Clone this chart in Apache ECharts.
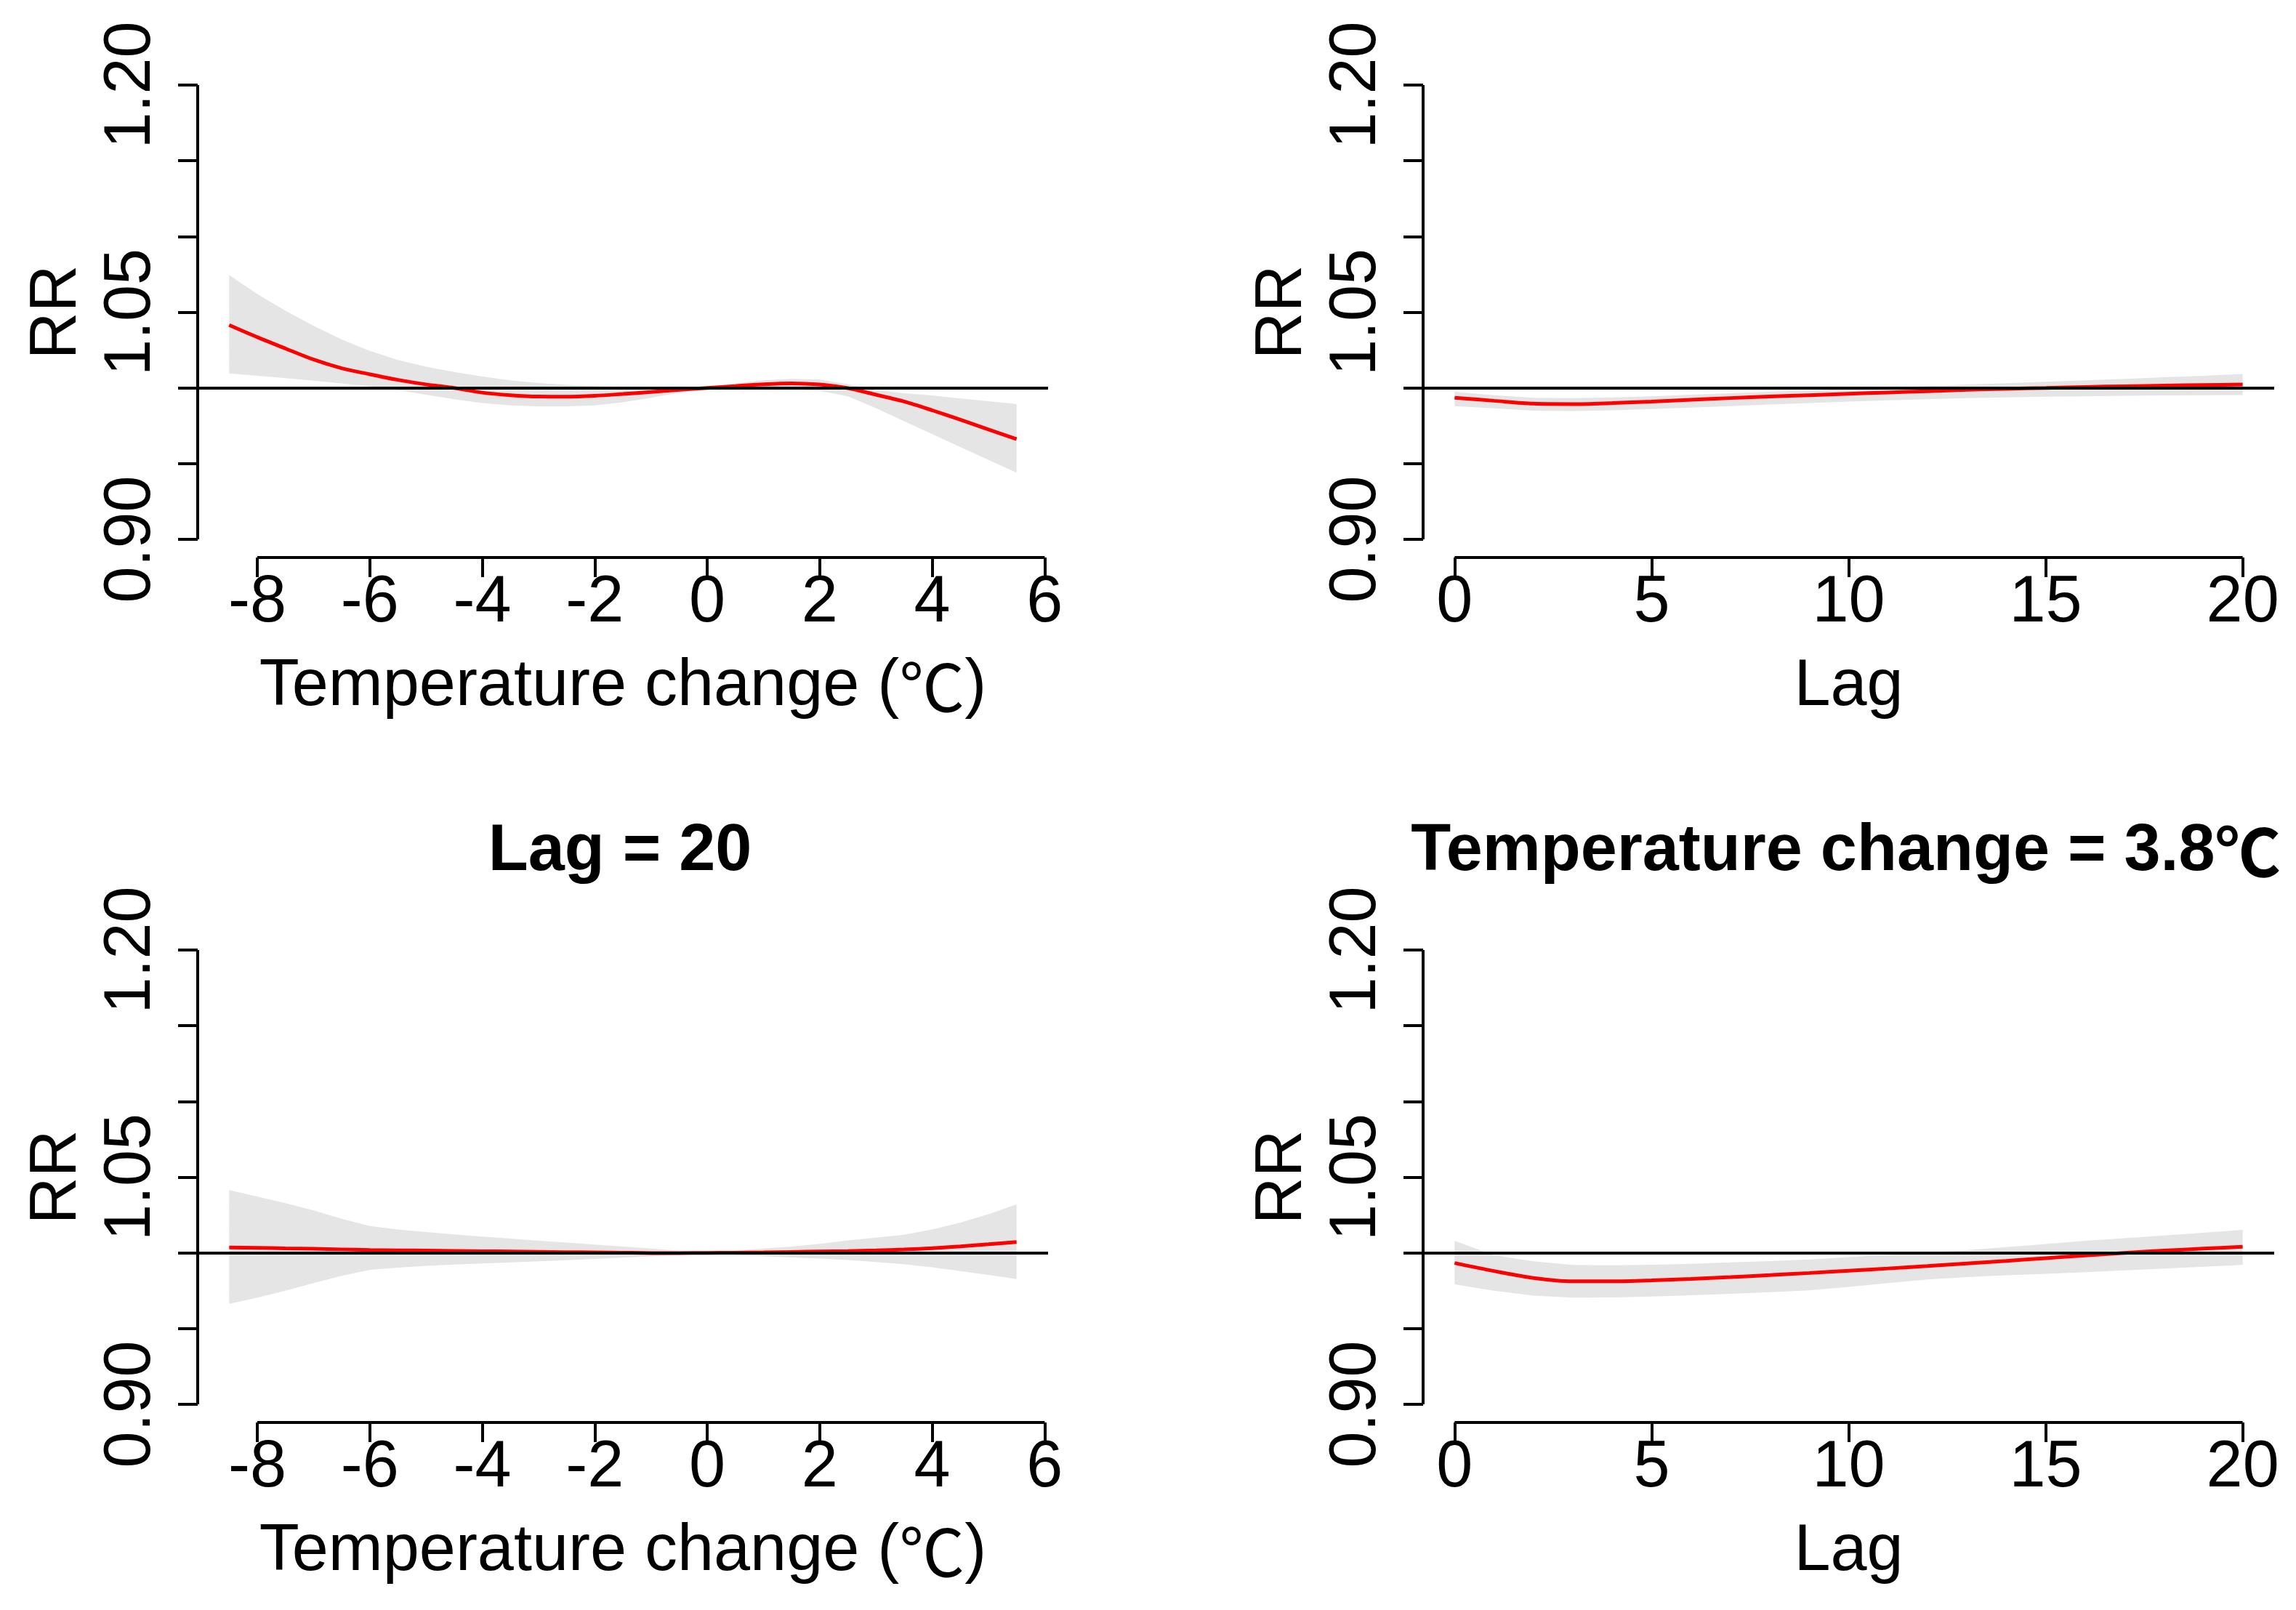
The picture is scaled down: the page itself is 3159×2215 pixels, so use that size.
<!DOCTYPE html>
<html>
<head>
<meta charset="utf-8">
<script src="https://cdn.jsdelivr.net/npm/echarts@6/dist/echarts.min.js"></script>
<style>
html,body{margin:0;padding:0;background:#fff;}
#chart{width:3159px;height:2215px;}
</style>
</head>
<body>
<div id="chart"></div>
<script>
// ---------- data ----------
const tempX = [-8.5,-8,-7.5,-7,-6.5,-6,-5.5,-5,-4.5,-4,-3.5,-3,-2.5,-2,-1.5,-1,-0.5,0,0.5,1,1.5,2,2.5,3,3.5,4,4.5,5,5.5];
const lagX = [0,1,2,3,4,5,6,7,8,9,10,11,12,13,14,15,16,17,18,19,20];

// Panel 1: overall temperature-response
const p1Fit  = [1.0415,1.0335,1.0260,1.0187,1.0130,1.0090,1.0053,1.0023,1.0000,0.9969,0.9952,0.9943,0.9942,0.9948,0.9960,0.9973,0.9987,1.0000,1.0012,1.0024,1.0030,1.0022,0.9998,0.9955,0.9910,0.9852,0.9790,0.9725,0.9662];
const p1High = [1.0745,1.0620,1.0510,1.0410,1.0320,1.0245,1.0185,1.0140,1.0105,1.0075,1.0050,1.0032,1.0020,1.0012,1.0006,1.0002,1.0000,1.0000,1.0030,1.0050,1.0060,1.0055,1.0025,0.9985,0.9965,0.9950,0.9930,0.9912,0.9894];
const p1Low  = [1.0096,1.0080,1.0065,1.0048,1.0030,1.0010,0.9985,0.9955,0.9925,0.9900,0.9885,0.9878,0.9878,0.9885,0.9905,0.9935,0.9968,1.0000,0.9995,0.9995,0.9993,0.9980,0.9945,0.9867,0.9780,0.9695,0.9610,0.9525,0.9440];

// Panel 2: lag-response
const p2Fit  = [0.9935,0.9915,0.9896,0.9893,0.9900,0.9910,0.9922,0.9933,0.9943,0.9952,0.9961,0.9970,0.9978,0.9987,0.9994,1.0000,1.0006,1.0011,1.0015,1.0019,1.0022];
const p2High = [0.9975,0.9952,0.9935,0.9932,0.9937,0.9945,0.9955,0.9965,0.9975,0.9984,0.9993,1.0003,1.0012,1.0022,1.0031,1.0040,1.0050,1.0060,1.0070,1.0080,1.0092];
const p2Low  = [0.9880,0.9865,0.9850,0.9847,0.9852,0.9860,0.9870,0.9880,0.9890,0.9900,0.9910,0.9918,0.9925,0.9932,0.9937,0.9942,0.9945,0.9948,0.9950,0.9952,0.9953];

// Panel 3: Lag = 20
const p3Fit  = [1.0036,1.0033,1.0030,1.0027,1.0023,1.0019,1.0017,1.0015,1.0013,1.0011,1.0009,1.0007,1.0005,1.0003,1.0001,0.9999,0.9999,1.0000,1.0001,1.0003,1.0006,1.0009,1.0012,1.0016,1.0022,1.0031,1.0043,1.0057,1.0072];
const p3High = [1.0415,1.0372,1.0328,1.0280,1.0225,1.0177,1.0155,1.0138,1.0122,1.0108,1.0094,1.0080,1.0068,1.0055,1.0042,1.0028,1.0014,1.0000,1.0014,1.0028,1.0042,1.0060,1.0082,1.0100,1.0120,1.0155,1.0200,1.0255,1.0320];
const p3Low  = [0.9664,0.9705,0.9750,0.9800,0.9848,0.9888,0.9903,0.9914,0.9923,0.9930,0.9937,0.9944,0.9952,0.9960,0.9968,0.9977,0.9988,1.0000,0.9988,0.9978,0.9970,0.9962,0.9953,0.9940,0.9925,0.9905,0.9880,0.9855,0.9827];

// Panel 4: Temperature change = 3.8℃
const p4Fit  = [0.9933,0.9880,0.9834,0.9812,0.9812,0.9818,0.9828,0.9840,0.9853,0.9867,0.9882,0.9897,0.9913,0.9930,0.9947,0.9965,0.9983,1.0000,1.0015,1.0028,1.0040];
const p4High = [1.0080,0.9984,0.9944,0.9920,0.9918,0.9922,0.9928,0.9937,0.9946,0.9957,0.9972,0.9987,1.0002,1.0018,1.0038,1.0058,1.0080,1.0097,1.0115,1.0133,1.0152];
const p4Low  = [0.9792,0.9750,0.9718,0.9705,0.9706,0.9712,0.9720,0.9730,0.9741,0.9752,0.9775,0.9800,0.9824,0.9840,0.9852,0.9862,0.9872,0.9885,0.9897,0.9909,0.9920];

const yTicks = [0.90,0.95,1.00,1.05,1.10,1.15,1.20];
const yLabels = [0.90,1.05,1.20];
const tempTicks = [-8,-6,-4,-2,0,2,4,6];
const lagTicks = [0,5,10,15,20];
const titles = ['', '', 'Lag = 20', 'Temperature change = 3.8{c|\u2103}'];
const xNames = ['Temperature change ({c|\u2103})', 'Lag', 'Temperature change ({c|\u2103})', 'Lag'];

// ---------- layout ----------
const FONT = "'Liberation Sans', Arial, sans-serif";
const CJK = "'Noto Sans CJK SC', sans-serif";
const FS = 90;
const yMin = 0.888, yMax = 1.212;
const tempMin = -9.06, tempMax = 6.06;
const lagMin = -0.8, lagMax = 20.8;
const grids = [
  {left: 272, top: 92, width: 1170, height: 675},
  {left: 1958, top: 92, width: 1171, height: 675},
  {left: 272, top: 1282, width: 1170, height: 675},
  {left: 1958, top: 1282, width: 1171, height: 675}
];
const panels = [
  {xs: tempX, fit: p1Fit, lo: p1Low, hi: p1High, ticks: tempTicks, min: tempMin, max: tempMax},
  {xs: lagX, fit: p2Fit, lo: p2Low, hi: p2High, ticks: lagTicks, min: lagMin, max: lagMax},
  {xs: tempX, fit: p3Fit, lo: p3Low, hi: p3High, ticks: tempTicks, min: tempMin, max: tempMax},
  {xs: lagX, fit: p4Fit, lo: p4Low, hi: p4High, ticks: lagTicks, min: lagMin, max: lagMax}
];

const xAxes = [], yAxes = [], series = [], titleOpts = [];
panels.forEach(function (p, gi) {
  xAxes.push({
    gridIndex: gi, type: 'value', min: p.min, max: p.max,
    axisLine: {show: false, onZero: false}, splitLine: {show: false},
    axisTick: {show: true, length: 27, lineStyle: {color: '#000', width: 4}, customValues: p.ticks},
    axisLabel: {customValues: p.ticks, fontSize: FS, color: '#000', fontFamily: FONT, margin: 18},
    name: xNames[gi], nameLocation: 'middle', nameGap: 133,
    nameTextStyle: {fontSize: FS, color: '#000', fontFamily: FONT,
      rich: {c: {fontSize: FS, color: '#000', fontFamily: CJK}}}
  });
  yAxes.push({
    gridIndex: gi, type: 'value', min: yMin, max: yMax,
    axisLine: {show: false, onZero: false}, splitLine: {show: false},
    axisTick: {show: true, length: 27, lineStyle: {color: '#000', width: 4}, customValues: yTicks},
    axisLabel: {customValues: yLabels, rotate: 90, fontSize: FS, color: '#000', fontFamily: FONT, margin: 46,
      formatter: function (v) { return Number(v).toFixed(2); }},
    name: 'RR', nameLocation: 'middle', nameRotate: 90, nameGap: 148,
    nameTextStyle: {fontSize: FS, color: '#000', fontFamily: FONT}
  });
  // confidence band
  series.push({
    type: 'custom', xAxisIndex: gi, yAxisIndex: gi, silent: true, z: 1,
    data: p.xs.map(function (x, i) { return [x, p.lo[i], p.hi[i]]; }),
    encode: {x: 0, y: [1, 2]},
    renderItem: function (params, api) {
      if (params.dataIndex !== 0) return null;
      const pts = [];
      for (let i = 0; i < p.xs.length; i++) pts.push(api.coord([p.xs[i], p.hi[i]]));
      for (let i = p.xs.length - 1; i >= 0; i--) pts.push(api.coord([p.xs[i], p.lo[i]]));
      return {type: 'polygon', shape: {points: pts}, style: {fill: '#e5e5e5'}};
    }
  });
  // fitted curve
  series.push({
    type: 'line', xAxisIndex: gi, yAxisIndex: gi, silent: true, z: 3,
    data: p.xs.map(function (x, i) { return [x, p.fit[i]]; }),
    showSymbol: false, symbol: 'none', smooth: 0.3,
    lineStyle: {color: '#ff0000', width: 5}
  });
  // reference line RR = 1
  series.push({
    type: 'line', xAxisIndex: gi, yAxisIndex: gi, data: [], silent: true, z: 4,
    markLine: {silent: true, symbol: ['none', 'none'], label: {show: false},
      lineStyle: {color: '#000', width: 4, type: 'solid'}, animation: false,
      data: [{yAxis: 1}]}
  });
  // R-style axis lines (first to last tick)
  series.push({
    type: 'line', xAxisIndex: gi, yAxisIndex: gi, silent: true, z: 5, clip: false,
    data: [[p.ticks[0], yMin], [p.ticks[p.ticks.length - 1], yMin]],
    showSymbol: false, symbol: 'none', lineStyle: {color: '#000', width: 4}
  });
  series.push({
    type: 'line', xAxisIndex: gi, yAxisIndex: gi, silent: true, z: 5, clip: false,
    data: [[p.min, yTicks[0]], [p.min, yTicks[yTicks.length - 1]]],
    showSymbol: false, symbol: 'none', lineStyle: {color: '#000', width: 4}
  });
  if (titles[gi]) {
    const g = grids[gi];
    titleOpts.push({
      text: titles[gi], left: g.left + g.width / 2 - 9, top: 1122, textAlign: 'center',
      textStyle: {fontSize: FS, fontWeight: 'bold', color: '#000', fontFamily: FONT,
        rich: {c: {fontSize: FS, fontWeight: 'bold', color: '#000', fontFamily: CJK}}}
    });
  }
});

const chart = echarts.init(document.getElementById('chart'), null, {renderer: 'canvas', devicePixelRatio: 1});
chart.setOption({
  animation: false,
  backgroundColor: '#ffffff',
  title: titleOpts,
  grid: grids,
  xAxis: xAxes,
  yAxis: yAxes,
  series: series
});
</script>
</body>
</html>
